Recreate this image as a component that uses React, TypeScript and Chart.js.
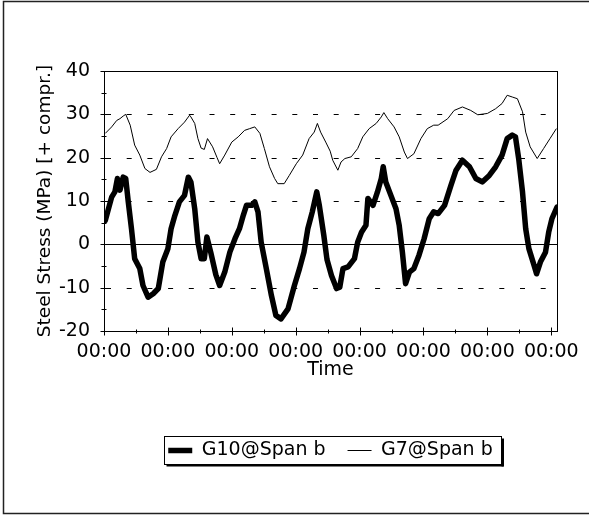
import React, { useEffect, useRef } from 'react';
import { Chart, registerables } from 'chart.js';

Chart.register(...registerables);

const FONT_FAMILY = '"DejaVu Sans", "Liberation Sans", sans-serif';

const seriesNames = ['G10@Span b', 'G7@Span b'];
const xTickLabels = ['00:00', '00:00', '00:00', '00:00', '00:00', '00:00', '00:00', '00:00'];
const xTickValues = [0, 1, 2, 3, 4, 5, 6, 7];
const xMax = 7.09;
const yMin = -20;
const yMax = 40;
const yStep = 10;
const yDashedLines = [-10, 10, 20, 30];
const yTitle = 'Steel Stress (MPa) [+ compr.]';
const xTitle = 'Time';

const g10Time = [
  0.02, 0.07, 0.12, 0.17, 0.21, 0.25, 0.30, 0.34, 0.38, 0.43, 0.48, 0.56, 0.61, 0.69, 0.77, 0.85, 0.92,
  1.00, 1.05, 1.11, 1.18, 1.26, 1.32, 1.36, 1.42, 1.47, 1.52, 1.57, 1.61, 1.67, 1.75, 1.81, 1.89, 1.97,
  2.05, 2.12, 2.18, 2.23, 2.31, 2.36, 2.41, 2.46, 2.54, 2.62, 2.69, 2.77, 2.88, 2.98,
  3.06, 3.13, 3.19, 3.26, 3.33, 3.37, 3.44, 3.49, 3.56, 3.64, 3.69, 3.74, 3.82, 3.92, 3.97,
  4.03, 4.10, 4.13, 4.21, 4.28, 4.34, 4.37, 4.41, 4.49, 4.57, 4.62, 4.67, 4.72, 4.78, 4.85, 4.93,
  5.01, 5.09, 5.16, 5.23, 5.33, 5.43, 5.51, 5.61, 5.72, 5.82, 5.92,
  6.03, 6.13, 6.23, 6.31, 6.39, 6.44, 6.49, 6.55, 6.60, 6.65, 6.73, 6.77, 6.83, 6.91, 6.96,
  7.01, 7.09,
];
const g10Stress = [
  5.5, 8.2, 10.9, 12.1, 15.2, 12.5, 15.5, 15.2, 9.8, 3.6, -3.3, -5.6, -9.5, -12.2, -11.4, -10.2, -4.1,
  -1.0, 3.6, 6.7, 9.8, 11.3, 15.5, 14.4, 8.2, 0.5, -3.3, -3.3, 1.7, -1.8, -7.0, -9.5, -6.4, -1.8,
  1.3, 3.6, 6.7, 9.0, 9.0, 9.8, 7.5, 0.5, -5.6, -11.8, -16.4, -17.2, -14.9, -9.5,
  -5.6, -1.8, 3.6, 7.5, 12.1, 9.0, 2.1, -3.5, -7.2, -10.2, -9.9, -5.6, -5.2, -3.3, 0.5,
  2.8, 4.4, 10.6, 9.0, 12.1, 15.2, 17.9, 14.4, 11.3, 8.2, 4.4, -1.8, -9.1, -6.4, -5.6, -2.5,
  1.3, 5.9, 7.5, 7.1, 9.0, 13.6, 17.1, 19.4, 17.9, 15.2, 14.4,
  15.9, 17.9, 20.6, 24.4, 25.2, 24.8, 19.8, 12.1, 3.6, -1.0, -4.8, -6.8, -4.1, -1.8, 2.8,
  5.9, 8.6,
];

const g7Time = [
  0.02, 0.12, 0.20, 0.25, 0.30, 0.34, 0.41, 0.48, 0.56, 0.64, 0.72, 0.82, 0.90, 0.98,
  1.05, 1.16, 1.26, 1.34, 1.36, 1.42, 1.47, 1.52, 1.57, 1.62, 1.70, 1.77, 1.81, 1.89,
  2.00, 2.10, 2.20, 2.28, 2.36, 2.44, 2.51, 2.59, 2.67, 2.72, 2.82, 2.90,
  3.01, 3.11, 3.21, 3.29, 3.34, 3.39, 3.47, 3.54, 3.58, 3.66, 3.71, 3.77, 3.87, 3.97,
  4.05, 4.15, 4.26, 4.34, 4.38, 4.44, 4.54, 4.62, 4.70, 4.75, 4.85, 4.96,
  5.06, 5.16, 5.23, 5.38, 5.48, 5.61, 5.74, 5.85,
  6.00, 6.13, 6.23, 6.31, 6.39, 6.47, 6.55, 6.60, 6.67, 6.78, 6.88, 6.98, 7.08,
];
const g7Stress = [
  25.6, 27.1, 28.6, 29.0, 29.6, 30.0, 27.5, 22.9, 20.6, 17.5, 16.6, 17.3, 20.2, 22.1,
  24.8, 26.7, 28.2, 29.8, 29.4, 27.9, 24.4, 22.2, 21.9, 24.4, 22.5, 20.0, 18.6, 20.6,
  23.6, 24.8, 26.3, 26.7, 27.1, 25.6, 22.1, 17.9, 15.2, 14.0, 14.0, 15.9,
  18.6, 20.6, 24.4, 25.9, 27.9, 25.9, 23.6, 21.5, 19.4, 17.1, 19.0, 19.8, 20.2, 22.1,
  24.8, 26.7, 27.9, 29.4, 30.4, 29.0, 27.1, 24.8, 21.3, 19.8, 20.9, 24.4,
  26.7, 27.5, 27.5, 29.0, 30.9, 31.7, 30.9, 29.9,
  30.2, 31.3, 32.5, 34.4, 34.0, 33.6, 30.6, 25.9, 22.5, 19.8, 22.1, 24.4, 26.7,
];

const toPoints = (xs: number[], ys: number[]) => xs.map((x, i) => ({ x, y: ys[i] }));

const decorations = {
  id: 'decorations',
  beforeDatasetsDraw(chart: any) {
    const { ctx, chartArea: a, scales } = chart;
    const y = scales.y;
    ctx.save();
    ctx.strokeStyle = '#000';
    ctx.lineWidth = 1;
    ctx.setLineDash([5, 15.7]);
    ctx.lineDashOffset = -2;
    for (const v of yDashedLines) {
      const py = Math.round(y.getPixelForValue(v)) + 0.5;
      ctx.beginPath();
      ctx.moveTo(a.left, py);
      ctx.lineTo(a.right, py);
      ctx.stroke();
    }
    ctx.setLineDash([]);
    const p0 = Math.round(y.getPixelForValue(0)) + 0.5;
    ctx.beginPath();
    ctx.moveTo(a.left, p0);
    ctx.lineTo(a.right, p0);
    ctx.stroke();
    ctx.restore();
  },
  afterDatasetsDraw(chart: any) {
    const { ctx, chartArea: a, scales } = chart;
    const x = scales.x;
    const y = scales.y;
    ctx.save();
    ctx.strokeStyle = '#000';
    ctx.lineWidth = 1;
    const L = Math.round(a.left) + 0.5;
    const R = Math.round(a.right) + 0.5;
    const T = Math.round(a.top) + 0.5;
    const B = Math.round(a.bottom) + 0.5;
    ctx.strokeRect(L, T, R - L, B - T);
    for (let v = yMin; v <= yMax; v += yStep / 2) {
      const py = Math.round(y.getPixelForValue(v)) + 0.5;
      const major = v % yStep === 0;
      ctx.beginPath();
      ctx.moveTo(L - (major ? 4 : 3), py);
      ctx.lineTo(L + (major ? 3 : 2), py);
      ctx.stroke();
    }
    for (let t = 0; t <= xMax; t += 0.5) {
      const px = Math.round(x.getPixelForValue(t)) + 0.5;
      const major = t % 1 === 0;
      ctx.beginPath();
      ctx.moveTo(px, B - (major ? 4 : 2));
      ctx.lineTo(px, B + (major ? 4 : 2));
      ctx.stroke();
    }
    ctx.restore();
  },
  afterDraw(chart: any) {
    const { ctx } = chart;
    const lg = chart.legend;
    ctx.save();
    if (lg && lg.legendHitBoxes && lg.legendHitBoxes.length) {
      const boxes = lg.legendHitBoxes;
      let left = Infinity, right = -Infinity, top = Infinity, bottom = -Infinity;
      for (const b of boxes) {
        left = Math.min(left, b.left);
        right = Math.max(right, b.left + b.width);
        top = Math.min(top, b.top);
        bottom = Math.max(bottom, b.top + b.height);
      }
      const bl = Math.round(left - 4) + 0.5;
      const br = Math.round(right + 8) + 0.5;
      const bt = Math.round(top - 5) + 0.5;
      const bb = Math.round(bottom + 4) + 0.5;
      ctx.strokeStyle = '#000';
      ctx.lineWidth = 1;
      ctx.strokeRect(bl, bt, br - bl, bb - bt);
      ctx.fillStyle = '#000';
      ctx.fillRect(br, bt + 2, 2.5, bb - bt);
      ctx.fillRect(bl + 2, bb, br - bl, 2);
    }
    ctx.strokeStyle = '#222';
    ctx.lineWidth = 1.5;
    ctx.beginPath();
    ctx.moveTo(600, 1.5);
    ctx.lineTo(3.5, 1.5);
    ctx.lineTo(3.5, 513.5);
    ctx.lineTo(600, 513.5);
    ctx.stroke();
    ctx.restore();
  },
};

export default function App() {
  const canvasRef = useRef<HTMLCanvasElement | null>(null);

  useEffect(() => {
    document.body.style.margin = '0';
    const canvas = canvasRef.current;
    if (!canvas) return;
    const chart = new Chart(canvas, {
      type: 'line',
      data: {
        datasets: [
          {
            label: seriesNames[0],
            data: toPoints(g10Time, g10Stress),
            borderColor: '#000',
            backgroundColor: '#000',
            borderWidth: 5.5,
            pointRadius: 0,
            tension: 0,
            borderJoinStyle: 'round',
            borderCapStyle: 'round',
          },
          {
            label: seriesNames[1],
            data: toPoints(g7Time, g7Stress),
            borderColor: '#000',
            backgroundColor: '#000',
            borderWidth: 1,
            pointRadius: 0,
            tension: 0,
          },
        ],
      },
      options: {
        animation: false,
        responsive: false,
        events: [],
        layout: { padding: { top: 71, right: 29, left: 0, bottom: 46 } },
        scales: {
          x: {
            type: 'linear',
            min: 0,
            max: xMax,
            grid: { display: false, drawTicks: false },
            border: { display: false },
            afterBuildTicks: (scale: any) => {
              scale.ticks = xTickValues.map((v) => ({ value: v }));
            },
            afterFit: (scale: any) => {
              scale.height = 88;
            },
            ticks: {
              autoSkip: false,
              maxRotation: 0,
              minRotation: 0,
              padding: 10,
              color: '#000',
              font: { family: FONT_FAMILY, size: 19 },
              callback: (_v: any, i: number) => xTickLabels[i],
            },
            title: {
              display: true,
              text: xTitle,
              color: '#000',
              font: { family: FONT_FAMILY, size: 19 },
              padding: { top: 0, bottom: 38 },
            },
          },
          y: {
            min: yMin,
            max: yMax,
            grid: { display: false, drawTicks: false },
            border: { display: false },
            afterFit: (scale: any) => {
              scale.width = 104;
            },
            ticks: {
              stepSize: yStep,
              padding: 14,
              color: '#000',
              font: { family: FONT_FAMILY, size: 19 },
            },
            title: {
              display: true,
              text: yTitle,
              color: '#000',
              font: { family: FONT_FAMILY, size: 18.5 },
              padding: { top: 34, bottom: 0 },
            },
          },
        },
        plugins: {
          tooltip: { enabled: false },
          legend: {
            position: 'bottom',
            fullSize: false,
            labels: {
              color: '#000',
              font: { family: FONT_FAMILY, size: 19 },
              usePointStyle: true,
              pointStyleWidth: 24,
              padding: 22,
              generateLabels: (c: any) =>
                c.data.datasets.map((ds: any, i: number) => ({
                  text: ds.label,
                  fillStyle: '#000',
                  strokeStyle: '#000',
                  lineWidth: ds.borderWidth,
                  pointStyle: 'line',
                  hidden: false,
                  datasetIndex: i,
                  fontColor: '#000',
                })),
            },
          },
        },
      },
      plugins: [decorations],
    } as any);
    return () => chart.destroy();
  }, []);

  return (
    <div style={{ width: 589, height: 516, background: '#fff' }}>
      <canvas ref={canvasRef} width={589} height={516} style={{ display: 'block' }} />
    </div>
  );
}
